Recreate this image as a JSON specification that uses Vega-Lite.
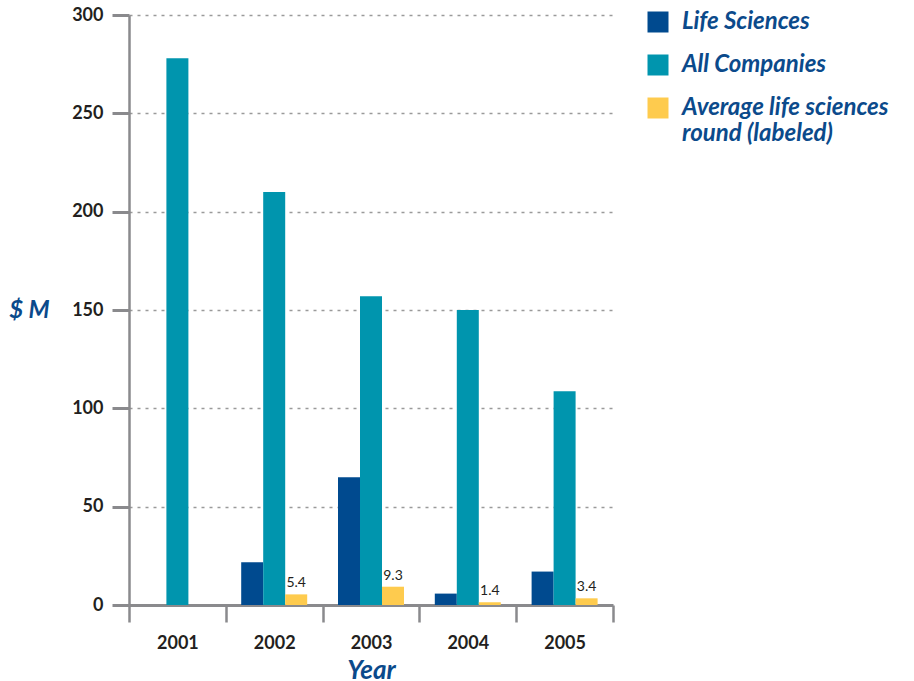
{
  "$schema": "https://vega.github.io/schema/vega-lite/v6.json",
  "width": 484,
  "height": 590,
  "autosize": {"type": "none"},
  "padding": {"left": 129, "top": 15, "right": 301, "bottom": 76},
  "background": "white",
  "config": {"view": {"stroke": null}, "font": "Lato"},
  "data": {
    "values": [
      {"year": "2001", "series": "All Companies", "value": 278},
      {"year": "2002", "series": "Life Sciences", "value": 21.7},
      {"year": "2002", "series": "All Companies", "value": 210},
      {"year": "2002", "series": "Average life sciences round (labeled)", "value": 5.4},
      {"year": "2003", "series": "Life Sciences", "value": 65},
      {"year": "2003", "series": "All Companies", "value": 157},
      {"year": "2003", "series": "Average life sciences round (labeled)", "value": 9.3},
      {"year": "2004", "series": "Life Sciences", "value": 5.8},
      {"year": "2004", "series": "All Companies", "value": 150},
      {"year": "2004", "series": "Average life sciences round (labeled)", "value": 1.4},
      {"year": "2005", "series": "Life Sciences", "value": 17},
      {"year": "2005", "series": "All Companies", "value": 108.7},
      {"year": "2005", "series": "Average life sciences round (labeled)", "value": 3.4}
    ]
  },
  "encoding": {
    "x": {
      "field": "year", "type": "ordinal",
      "scale": {"paddingInner": 0, "paddingOuter": 0},
      "axis": {
        "title": "Year", "labelAngle": 0, "tickBand": "extent",
        "tickSize": 17, "tickWidth": 2.5, "tickColor": "#8a8a8d",
        "domainColor": "#8a8a8d", "domainWidth": 3,
        "labelFont": "Lato", "labelFontSize": 18, "labelFontWeight": "bold", "labelColor": "#231f20",
        "labelPadding": 12,
        "titleFont": "Lato", "titleFontSize": 26, "titleFontStyle": "italic", "titleFontWeight": "bold",
        "titleColor": "#0b4a8b", "titlePadding": 5
      }
    },
    "xOffset": {
      "field": "series", "type": "nominal",
      "scale": {"domain": ["Life Sciences", "All Companies", "Average life sciences round (labeled)"], "paddingInner": 0, "paddingOuter": 0.7}
    },
    "y": {
      "field": "value", "type": "quantitative",
      "scale": {"domain": [0, 300]},
      "axis": {
        "values": [0, 50, 100, 150, 200, 250, 300],
        "title": "$ M", "titleAngle": 0, "titleX": -100, "titleY": 295,
        "titleAlign": "center", "titleBaseline": "middle",
        "titleFont": "Lato", "titleFontSize": 24, "titleFontStyle": "italic", "titleFontWeight": "bold", "titleColor": "#0b4a8b",
        "labelFont": "Lato", "labelFontSize": 18, "labelFontWeight": "bold", "labelColor": "#231f20", "labelPadding": 9,
        "tickSize": 17, "tickWidth": 3, "tickColor": "#8a8a8d",
        "domainColor": "#8a8a8d", "domainWidth": 2.5,
        "grid": true, "gridColor": "#9a9a9a", "gridDash": [3, 5], "gridWidth": 1.5
      }
    }
  },
  "layer": [
    {
      "mark": {"type": "bar"},
      "encoding": {
        "color": {
          "field": "series", "type": "nominal",
          "scale": {
            "domain": ["Life Sciences", "All Companies", "Average life sciences round (labeled)"],
            "range": ["#004a8f", "#0095ae", "#fecb4e"]
          },
          "legend": {
            "title": null, "orient": "none", "legendX": 517, "legendY": -5,
            "symbolType": "square", "symbolSize": 441, "symbolStrokeWidth": 0, "symbolOpacity": 1,
            "labelFont": "Lato", "labelFontSize": 24, "labelFontStyle": "italic", "labelFontWeight": "bold",
            "labelColor": "#0b4a8b", "labelLimit": 400, "labelOffset": 12, "rowPadding": 19,
            "labelExpr": "datum.label == 'Average life sciences round (labeled)' ? ['Average life sciences', 'round (labeled)'] : datum.label"
          }
        }
      }
    },
    {
      "transform": [{"filter": "datum.series == 'Average life sciences round (labeled)'"}],
      "mark": {"type": "text", "baseline": "bottom", "dy": -4, "fontSize": 14, "font": "Lato", "color": "#231f20"},
      "encoding": {
        "text": {"field": "value", "type": "quantitative", "format": ".1f"}
      }
    }
  ]
}
